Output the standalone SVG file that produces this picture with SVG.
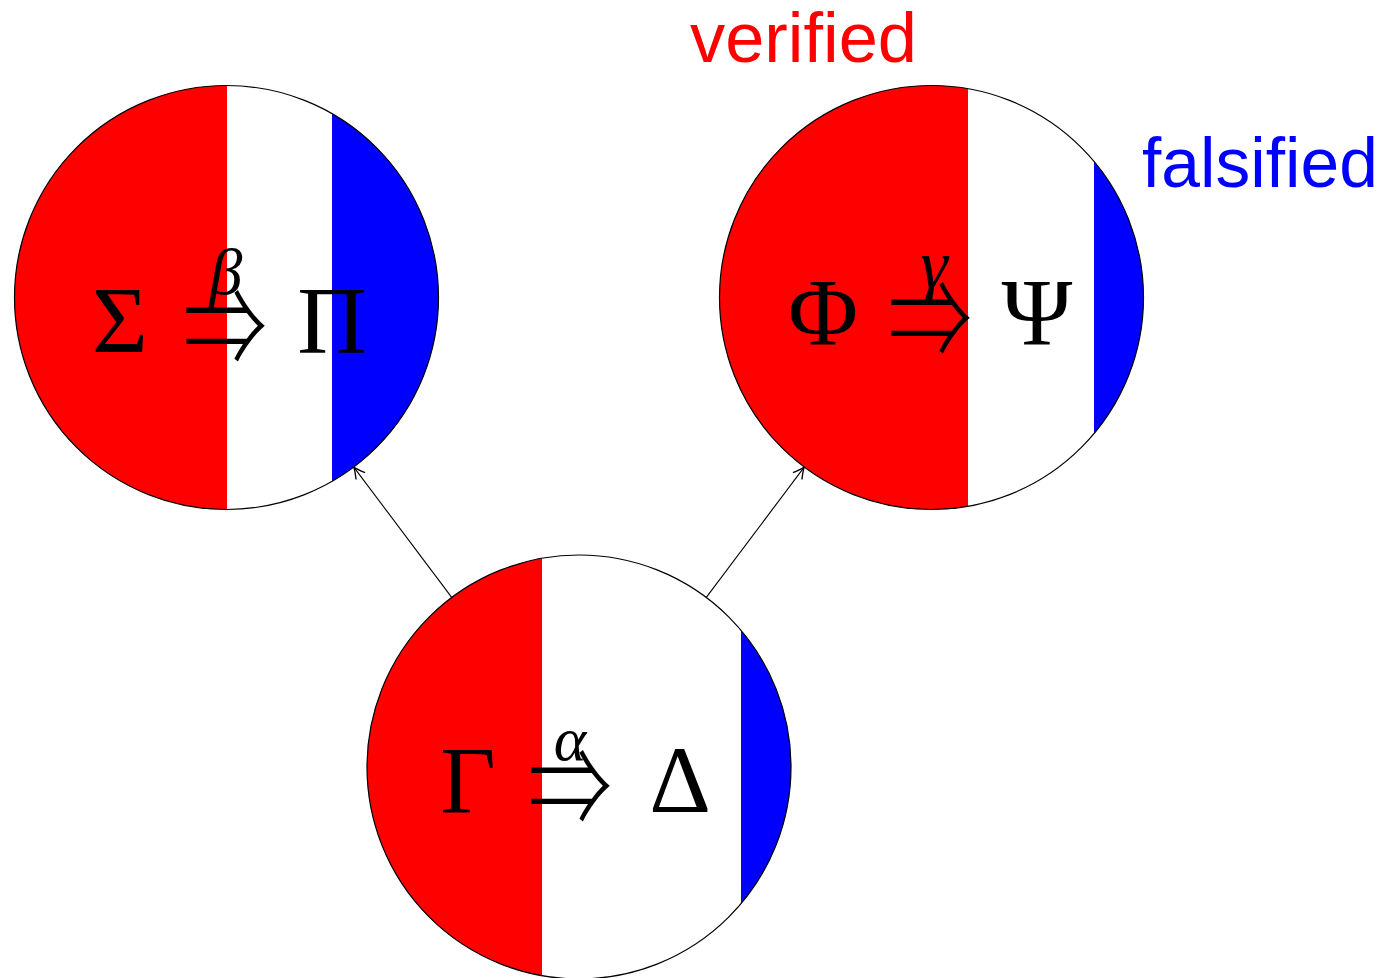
<svg xmlns="http://www.w3.org/2000/svg" width="1398" height="978" viewBox="0 0 1398 978">
<style>
.ring{fill:none;stroke:#000;stroke-width:1.2}
.red{fill:#ff0000}
.blue{fill:#0000ff}
.white{fill:#fff}
.up{font-family:"Liberation Serif","DejaVu Serif",serif;font-size:96px;fill:#000;text-anchor:middle}
.it{font-family:"Liberation Serif","DejaVu Serif",serif;font-style:italic;fill:#000;text-anchor:middle}
.arr{font-family:"Noto Sans CJK JP","DejaVu Serif",serif;font-size:110px;font-weight:300;fill:#000}
.lbl{font-family:"Liberation Sans",Arial,sans-serif;font-size:70px}
.edge{stroke:#000;stroke-width:1.1;fill:none;marker-end:url(#ah)}
</style>
<defs>
<clipPath id="cL"><circle cx="226.5" cy="297.5" r="212"/></clipPath>
<clipPath id="cR"><circle cx="931.5" cy="297.5" r="212"/></clipPath>
<clipPath id="cB"><circle cx="579" cy="767" r="212"/></clipPath>
<marker id="ah" markerUnits="userSpaceOnUse" markerWidth="20" markerHeight="20" viewBox="-12 -8 14 16" refX="0" refY="0" orient="auto">
<path d="M-9,-4.5 Q-3,-1 0,0 Q-3,1 -9,4.5" fill="none" stroke="#000" stroke-width="1.1"/>
</marker>
</defs>
<g id="connectors">
<line class="edge" x1="451.7" y1="597.4" x2="353.8" y2="467.1"/>
<line class="edge" x1="706.3" y1="597.4" x2="804.2" y2="467.1"/>
</g>
<g id="node-left">
<g clip-path="url(#cL)">
<rect class="red" x="10" y="80" width="217" height="440"/>
<rect class="white" x="227" y="80" width="105" height="440"/>
<rect class="blue" x="332" y="80" width="115" height="440"/>
</g>
<circle class="ring" cx="226.5" cy="297.5" r="212"/>
<text class="up" x="120" y="353">Σ</text>
<text class="arr" x="183" y="367" textLength="84" lengthAdjust="spacingAndGlyphs">⇒</text>
<text class="it" x="226" y="294" font-size="66">β</text>
<text class="up" x="332" y="353">Π</text>
</g>
<g id="node-right">
<g clip-path="url(#cR)">
<rect class="red" x="715" y="80" width="253" height="440"/>
<rect class="white" x="968" y="80" width="126" height="440"/>
<rect class="blue" x="1094" y="80" width="60" height="440"/>
</g>
<circle class="ring" cx="931.5" cy="297.5" r="212"/>
<text class="up" x="823" y="345">Φ</text>
<text class="arr" x="888" y="359" textLength="84" lengthAdjust="spacingAndGlyphs">⇒</text>
<text class="it" x="934" y="288" font-size="70">γ</text>
<text class="up" x="1037" y="345">Ψ</text>
</g>
<g id="node-bottom">
<g clip-path="url(#cB)">
<rect class="red" x="360" y="550" width="182" height="440"/>
<rect class="white" x="542" y="550" width="199" height="440"/>
<rect class="blue" x="741" y="550" width="60" height="440"/>
</g>
<circle class="ring" cx="579" cy="767" r="212"/>
<text class="up" x="468" y="813">Γ</text>
<text class="arr" x="528" y="827" textLength="84" lengthAdjust="spacingAndGlyphs">⇒</text>
<text class="it" x="570" y="760" font-size="62">α</text>
<text class="up" x="680" y="812">Δ</text>
</g>
<g id="labels">
<text class="lbl" x="690" y="62" fill="#ff0000" textLength="227" lengthAdjust="spacingAndGlyphs">verified</text>
<text class="lbl" x="1142" y="187" fill="#0000ff" textLength="236" lengthAdjust="spacingAndGlyphs">falsified</text>
</g>
</svg>
